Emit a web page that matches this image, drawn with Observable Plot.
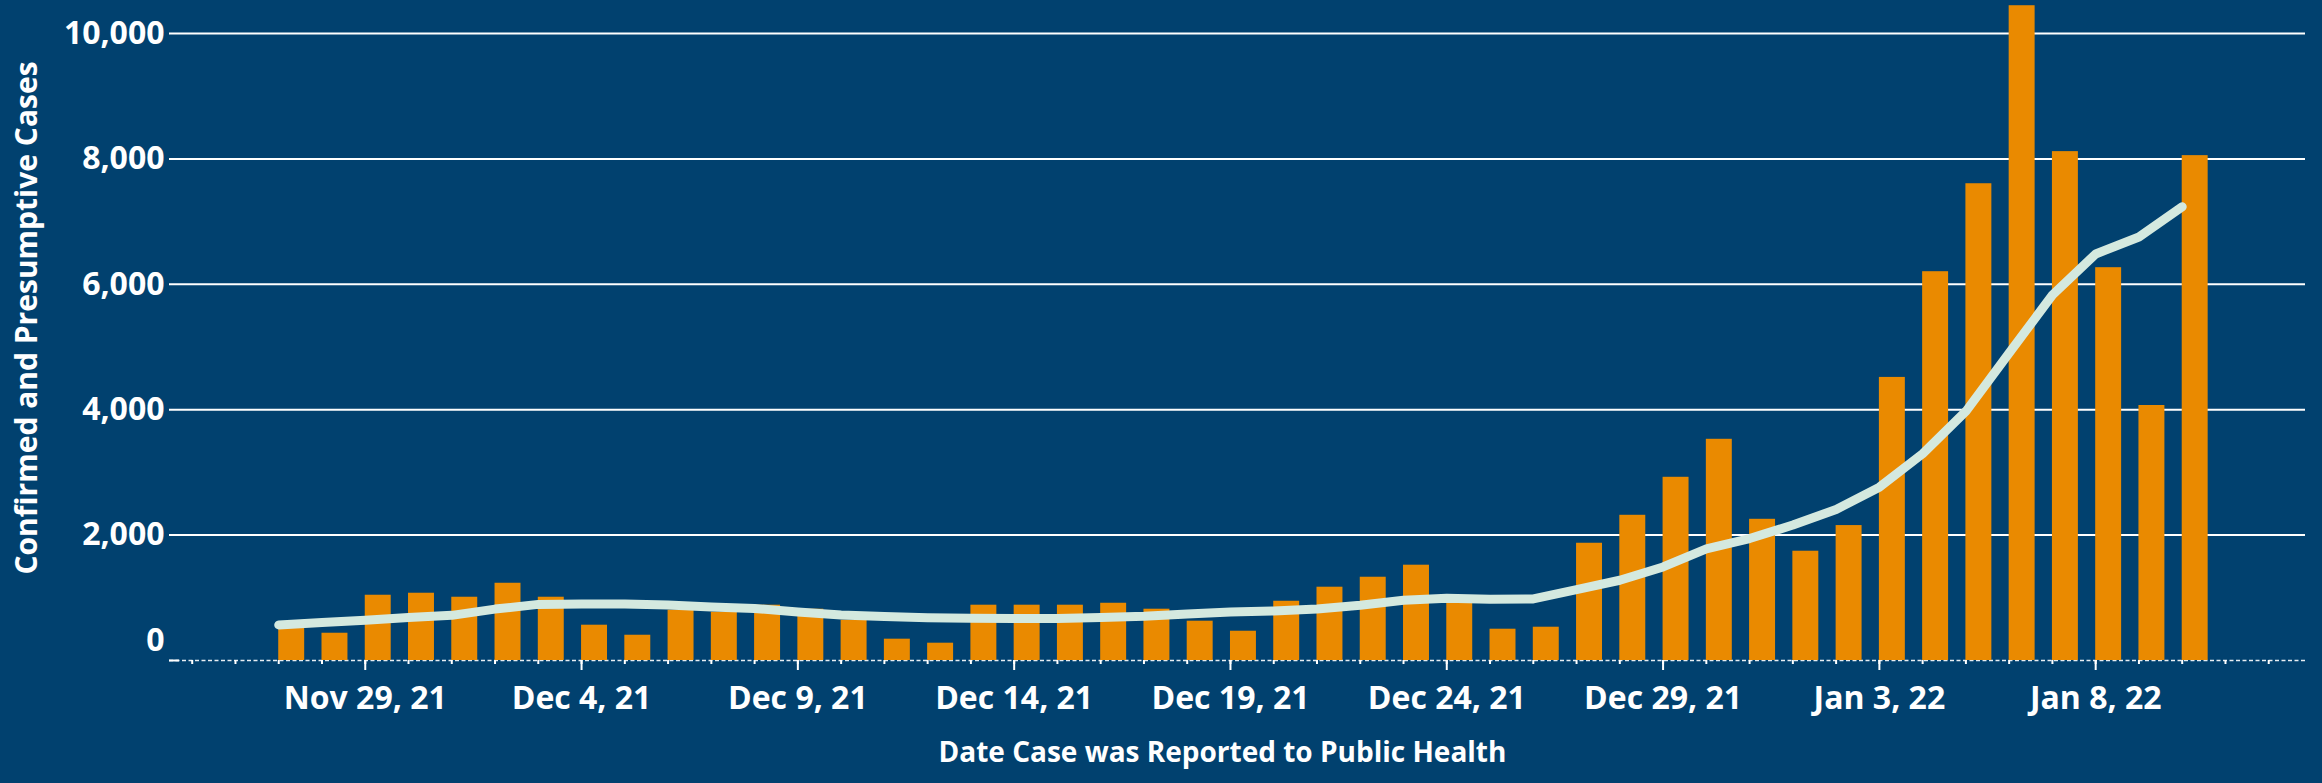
<!DOCTYPE html>
<html>
<head>
<meta charset="utf-8">
<script src="https://cdn.jsdelivr.net/npm/d3@7"></script>
<script src="https://cdn.jsdelivr.net/npm/@observablehq/plot@0.6"></script>
<style>
  html, body { margin: 0; padding: 0; background: #01416f; }
  #chart { width: 2322px; height: 783px; overflow: hidden; }
</style>
</head>
<body>
<div id="chart"></div>
<script>
const dateLabels = [
  "2021-11-27","2021-11-28","2021-11-29","2021-11-30",
  "2021-12-01","2021-12-02","2021-12-03","2021-12-04","2021-12-05","2021-12-06","2021-12-07","2021-12-08","2021-12-09","2021-12-10",
  "2021-12-11","2021-12-12","2021-12-13","2021-12-14","2021-12-15","2021-12-16","2021-12-17","2021-12-18","2021-12-19","2021-12-20",
  "2021-12-21","2021-12-22","2021-12-23","2021-12-24","2021-12-25","2021-12-26","2021-12-27","2021-12-28","2021-12-29","2021-12-30","2021-12-31",
  "2022-01-01","2022-01-02","2022-01-03","2022-01-04","2022-01-05","2022-01-06","2022-01-07","2022-01-08","2022-01-09","2022-01-10"
];
const dailyCases = [
  560, 435, 1041, 1073,
  1009, 1232, 1009, 563, 403, 802, 770, 882, 818, 642,
  340, 276, 882, 882, 882, 913, 818, 627, 467, 945,
  1169, 1328, 1520, 1010, 499, 531, 1870, 2316, 2922, 3528, 2252,
  1743, 2152, 4515, 6201, 7604, 10443, 8116, 6265, 4067, 8052
];
const movingAverage = [
  568, 606, 642, 685,
  720, 820, 895, 900, 900, 884, 855, 830, 775, 727,
  700, 680, 674, 669, 669, 685, 706, 743, 775, 791,
  823, 882, 961, 993, 977, 982, 1132, 1280, 1492, 1779, 1945,
  2160, 2409, 2765, 3298, 3974, 4904, 5830, 6484, 6755, 7237
];
const yTicks = [2000, 4000, 6000, 8000, 10000];
const majorTickLabels = ["2021-11-29","2021-12-04","2021-12-09","2021-12-14","2021-12-19","2021-12-24","2021-12-29","2022-01-03","2022-01-08"];
const minorTickRange = ["2021-11-25", "2022-01-12"];
const xDomain = ["2021-11-24T11:24:00Z", "2022-01-12T20:24:00Z"];
const yTitle = "Confirmed and Presumptive Cases";
const xTitle = "Date Case was Reported to Public Health";

const parse = s => new Date(s.length === 10 ? s + "T00:00:00Z" : s);
const data = dateLabels.map((d, i) => ({date: parse(d), cases: dailyCases[i], avg: movingAverage[i]}));
const majorTicks = majorTickLabels.map(parse);
const minorTicks = d3.utcDay.range(parse(minorTickRange[0]), d3.utcDay.offset(parse(minorTickRange[1]), 1));
const DAY = 864e5;

const bg = "#01416f";
const orange = "#ea8a00";
const mint = "#d4e9df";

const chart = Plot.plot({
  width: 2322,
  height: 783,
  marginLeft: 169,
  marginRight: 17,
  marginTop: 33,
  marginBottom: 123,
  style: {background: bg, color: "#ffffff", fontFamily: "'Open Sans', sans-serif", fontWeight: 700, overflow: "visible"},
  x: {type: "utc", domain: xDomain.map(parse)},
  y: {domain: [0, 10000]},
  marks: [
    Plot.gridY(yTicks, {stroke: "#ffffff", strokeOpacity: 1, strokeWidth: 2}),
    Plot.ruleY([0], {stroke: "#e8eef3", strokeWidth: 1.6, strokeDasharray: "4,2.5"}),
    Plot.ruleY([0], {x1: parse(xDomain[0]), x2: d => new Date(+parse(xDomain[0]) + 0.23 * DAY), stroke: "#ffffff", strokeWidth: 2}),
    Plot.rectY(data, {x1: "date", x2: d => new Date(+d.date + 0.6 * DAY), y: "cases", fill: orange}),
    Plot.line(data, {x: "date", y: "avg", stroke: mint, strokeWidth: 9, strokeLinecap: "round", strokeLinejoin: "round"}),
    Plot.axisX(minorTicks, {tickSize: 4, strokeWidth: 2, tickFormat: () => "", label: null}),
    Plot.axisX(majorTicks, {tickSize: 10, strokeWidth: 2, tickPadding: 16, tickFormat: d3.utcFormat("%b %-d, %y"), fontSize: 32, fontWeight: 700, label: null}),
    Plot.axisY(yTicks, {tickSize: 0, tickPadding: 5, tickFormat: d3.format(","), fontSize: 32, fontWeight: 700, label: null}),
    Plot.axisY([0], {tickSize: 0, tickPadding: 5, dy: -20, tickFormat: d3.format(","), fontSize: 32, fontWeight: 700, label: null}),
    Plot.text([xTitle], {frameAnchor: "bottom", dy: 101, dx: -15, text: d => d, textAnchor: "middle", fontSize: 28, fontWeight: 700, fill: "#ffffff"}),
    Plot.text([yTitle], {frameAnchor: "left", dx: -142, dy: -29, rotate: -90, text: d => d, textAnchor: "middle", fontSize: 30, fontWeight: 700, fill: "#ffffff"})
  ]
});
document.getElementById("chart").appendChild(chart);
</script>
</body>
</html>
